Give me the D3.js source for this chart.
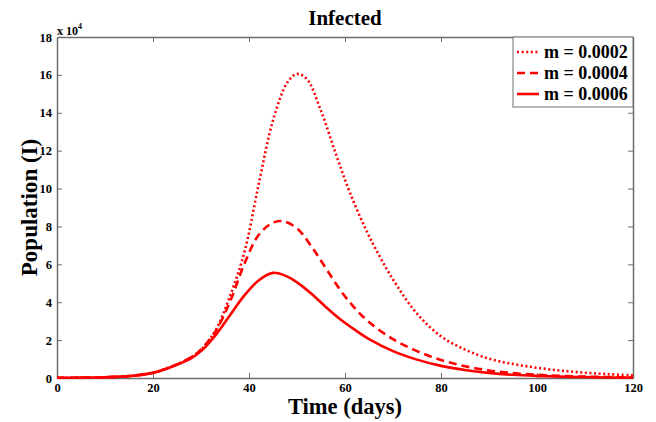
<!DOCTYPE html>
<html>
<head>
<meta charset="utf-8">
<script src="https://cdn.jsdelivr.net/npm/d3@7"></script>
<style>
  body { margin: 0; background: #fff; }
  svg text { font-family: "Liberation Serif", "Times New Roman", serif; font-weight: bold; }
</style>
</head>
<body>
<div id="chart"></div>
<script>
// --- Data (values in units of 10^4) ---
const days02 = [0, 5, 10, 15, 20, 25, 28, 30, 33, 36, 39, 42, 45, 48, 50, 52, 55, 58, 61, 65, 70, 75, 80, 85, 90, 95, 100, 105, 110, 115, 120];
const infected02 = [0.01, 0.02, 0.04, 0.1, 0.28, 0.72, 1.1, 1.5, 2.5, 4.3, 6.6, 10.2, 13.6, 15.6, 16.05, 15.8, 14.1, 11.9, 9.8, 7.5, 5.2, 3.4, 2.2, 1.5, 1.02, 0.74, 0.54, 0.39, 0.28, 0.2, 0.14];

const days04 = [0, 5, 10, 15, 20, 25, 28, 30, 33, 36, 39, 42, 45, 47, 50, 53, 56, 59, 62, 65, 70, 75, 80, 85, 90, 95, 100, 105, 110, 115, 120];
const infected04 = [0.01, 0.02, 0.04, 0.1, 0.28, 0.72, 1.1, 1.5, 2.45, 4.0, 6.0, 7.55, 8.2, 8.28, 7.9, 6.95, 5.8, 4.65, 3.7, 2.95, 2.05, 1.42, 0.95, 0.62, 0.4, 0.26, 0.17, 0.11, 0.07, 0.05, 0.03];

const days06 = [0, 5, 10, 15, 20, 25, 28, 30, 33, 36, 39, 42, 45, 48, 50, 53, 56, 59, 62, 65, 70, 75, 80, 85, 90, 95, 100, 105, 110, 115, 120];
const infected06 = [0.01, 0.02, 0.04, 0.1, 0.27, 0.7, 1.05, 1.42, 2.25, 3.3, 4.35, 5.15, 5.55, 5.35, 5.05, 4.45, 3.75, 3.1, 2.55, 2.05, 1.42, 0.97, 0.64, 0.42, 0.27, 0.17, 0.11, 0.07, 0.05, 0.03, 0.02];

const seriesLabels = ["m = 0.0002", "m = 0.0004", "m = 0.0006"];
const xTicks = [0, 20, 40, 60, 80, 100, 120];
const yTicks = [0, 2, 4, 6, 8, 10, 12, 14, 16, 18];

// --- Setup ---
const width = 656, height = 422;
const margin = { left: 57, right: 23, top: 37, bottom: 44 };
const plotW = width - margin.left - margin.right;
const plotH = height - margin.top - margin.bottom;

const svg = d3.select("#chart").append("svg")
  .attr("width", width)
  .attr("height", height);

const x = d3.scaleLinear().domain([0, 120]).range([margin.left, margin.left + plotW]);
const y = d3.scaleLinear().domain([0, 18]).range([margin.top + plotH, margin.top]);

const frameColor = "#6e6e6e";

// Axes (MATLAB style: ticks inside, on all four sides)
svg.append("g")
  .attr("transform", `translate(0,${margin.top + plotH})`)
  .call(d3.axisBottom(x).tickValues(xTicks).tickSizeInner(-5).tickSizeOuter(0).tickPadding(5))
  .call(g => g.selectAll("text").attr("font-size", 12.5).attr("fill", "#000"));

svg.append("g")
  .attr("transform", `translate(0,${margin.top})`)
  .call(d3.axisTop(x).tickValues(xTicks).tickSizeInner(-5).tickSizeOuter(0).tickFormat(""));

svg.append("g")
  .attr("transform", `translate(${margin.left},0)`)
  .call(d3.axisLeft(y).tickValues(yTicks).tickSizeInner(-5).tickSizeOuter(0).tickPadding(5))
  .call(g => g.selectAll("text").attr("font-size", 12.5).attr("fill", "#000"));

svg.append("g")
  .attr("transform", `translate(${margin.left + plotW},0)`)
  .call(d3.axisRight(y).tickValues(yTicks).tickSizeInner(-5).tickSizeOuter(0).tickFormat(""));

svg.selectAll(".domain").attr("stroke", frameColor).attr("stroke-width", 1.5);
svg.selectAll(".tick line").attr("stroke", frameColor);

// --- Lines ---
const line = d3.line()
  .x(d => x(d[0]))
  .y(d => y(d[1]))
  .curve(d3.curveCatmullRom.alpha(0.5));

const series = [
  { days: days02, vals: infected02, dash: "2,2.6" },
  { days: days04, vals: infected04, dash: "8,5" },
  { days: days06, vals: infected06, dash: null }
];

series.forEach(s => {
  svg.append("path")
    .datum(s.days.map((d, i) => [d, s.vals[i]]))
    .attr("d", line)
    .attr("fill", "none")
    .attr("stroke", "#ff0000")
    .attr("stroke-width", 2.6)
    .attr("stroke-dasharray", s.dash);
});

// --- Legend ---
const legend = svg.append("g");
legend.append("rect")
  .attr("x", 513).attr("y", margin.top)
  .attr("width", margin.left + plotW - 513).attr("height", 70)
  .attr("fill", "#fff").attr("stroke", frameColor).attr("stroke-width", 1);

seriesLabels.forEach((label, i) => {
  const ly = 52 + i * 21;
  legend.append("line")
    .attr("x1", 517).attr("x2", 539)
    .attr("y1", ly).attr("y2", ly)
    .attr("stroke", "#ff0000").attr("stroke-width", 2.6)
    .attr("stroke-dasharray", series[i].dash);
  legend.append("text")
    .attr("x", 544).attr("y", ly + 6)
    .attr("font-size", 18)
    .text(label);
});

// --- Text ---
svg.append("text")
  .attr("x", margin.left + plotW / 2).attr("y", 25)
  .attr("text-anchor", "middle").attr("font-size", 21)
  .text("Infected");

svg.append("text")
  .attr("x", margin.left + plotW / 2).attr("y", 414)
  .attr("text-anchor", "middle").attr("font-size", 22.5)
  .text("Time (days)");

svg.append("text")
  .attr("transform", `translate(37,${margin.top + plotH / 2}) rotate(-90)`)
  .attr("text-anchor", "middle").attr("font-size", 23)
  .text("Population (I)");

const expo = svg.append("text")
  .attr("x", 57).attr("y", 35)
  .attr("font-size", 12).attr("font-weight", "normal");
expo.append("tspan").text("x 10");
expo.append("tspan").attr("dy", -6).attr("font-size", 8).text("4");
</script>
</body>
</html>
